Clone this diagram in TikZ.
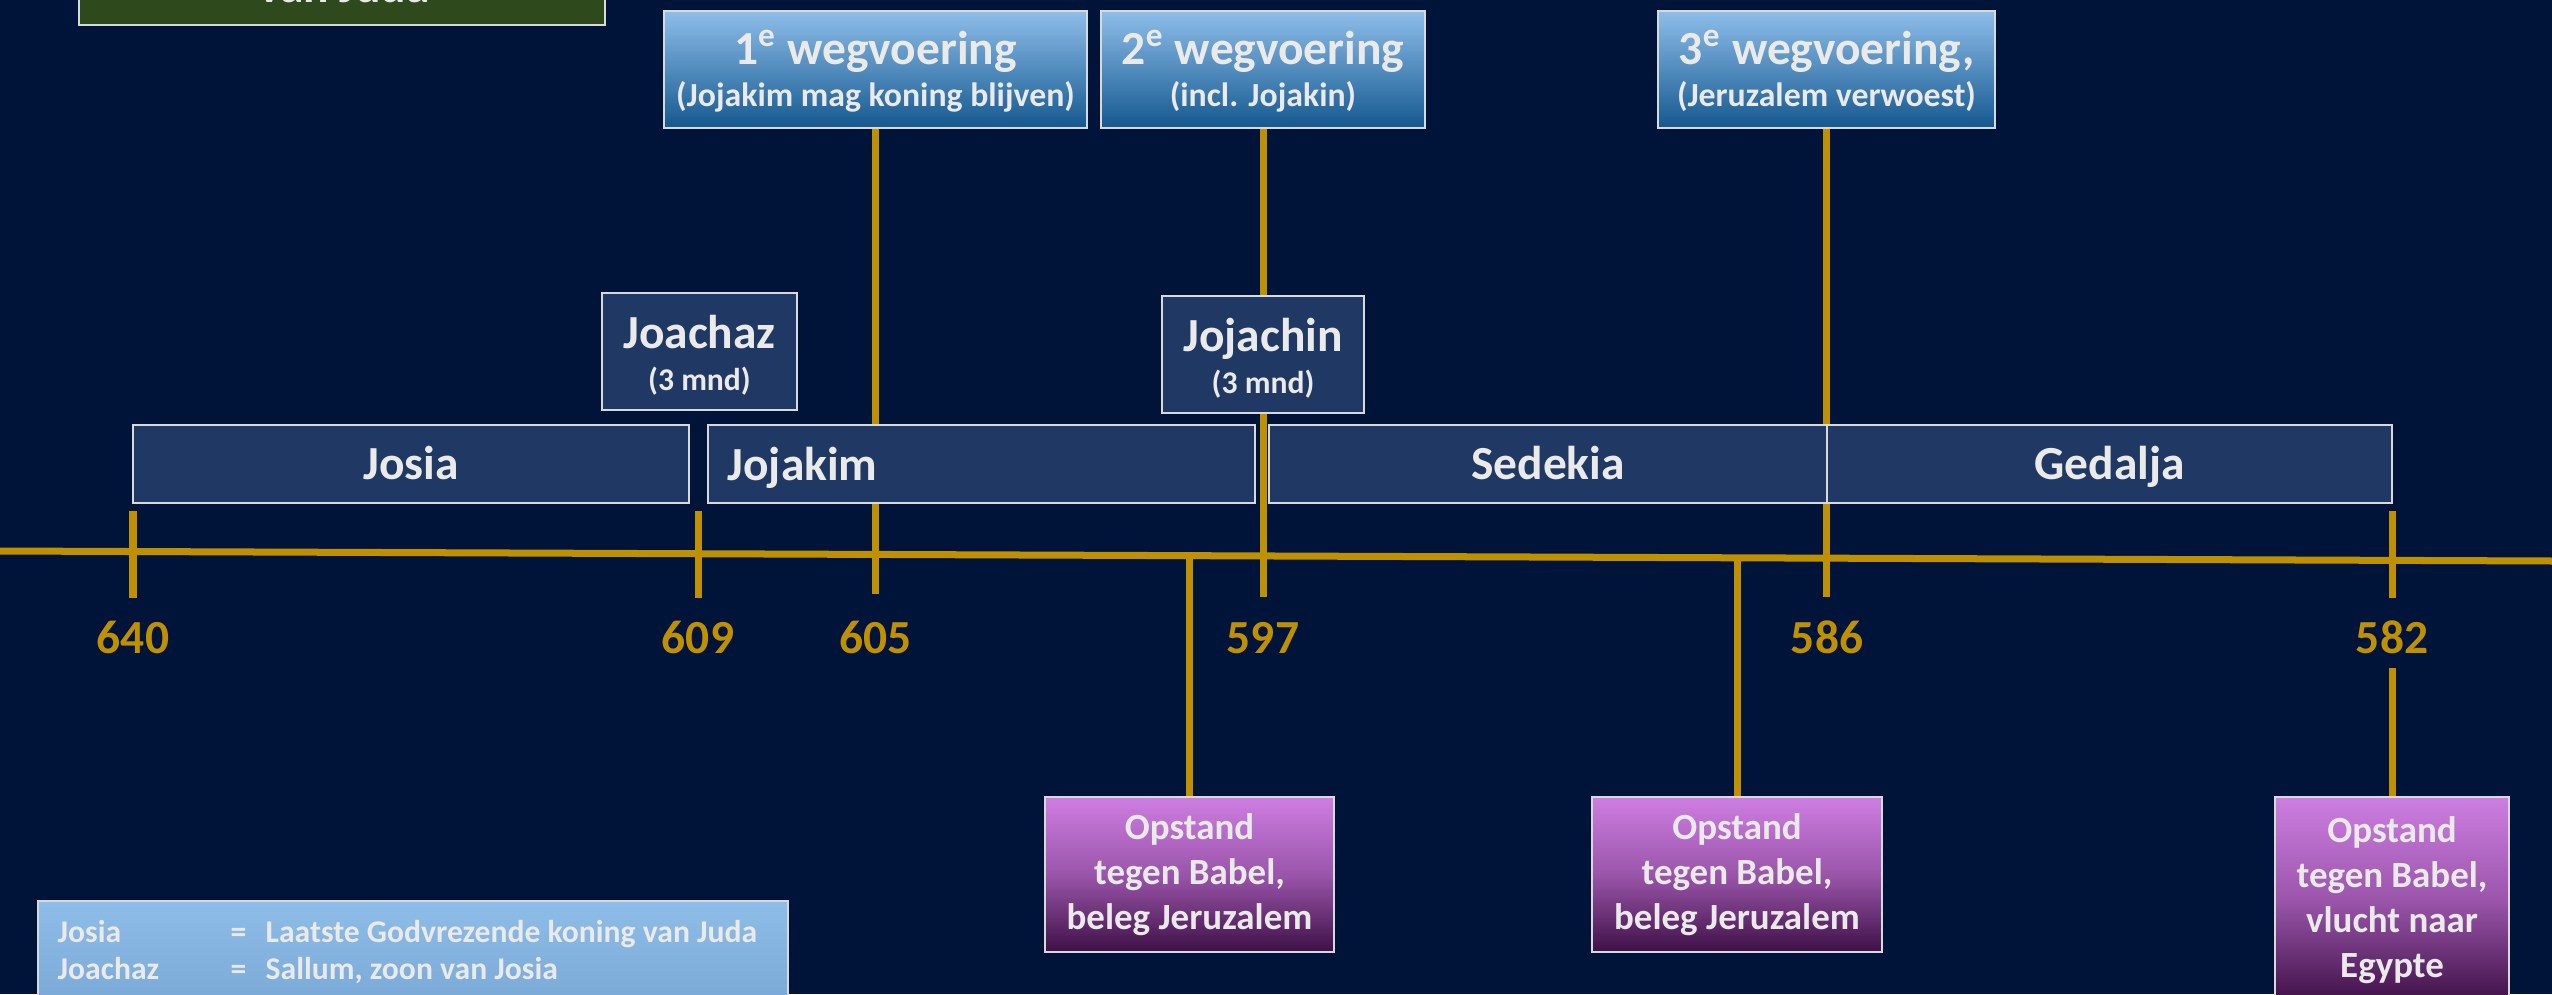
\documentclass[tikz,border=0pt]{standalone}
\usepackage{fontspec}
\setmainfont{Carlito}

\definecolor{nightblue}{HTML}{001338}
\definecolor{goldyellow}{HTML}{BF9000}
\definecolor{palegray}{HTML}{EAEAEA}
\definecolor{framegray}{HTML}{D9D9D9}
\definecolor{kingblue}{HTML}{203864}
\definecolor{wegtop}{HTML}{8EBEEA}
\definecolor{wegbottom}{HTML}{14588F}
\definecolor{opstop}{HTML}{CE7EE2}
\definecolor{opsmid}{HTML}{9A55AA}
\definecolor{opsbottom}{HTML}{3E1046}
\definecolor{legtop}{HTML}{8EBDE8}
\definecolor{legbottom}{HTML}{7AA8D6}
\definecolor{judagreen}{HTML}{2E4A1D}

\begin{document}
\begin{tikzpicture}[x=0.01cm,y=-0.01cm]
\tikzstyle{every node}+=[inner sep=0pt]
\tikzstyle{boxframe}=[draw=framegray, line width=0.6pt]
\tikzstyle{goldline}=[draw=goldyellow, line width=0.07cm]
\tikzstyle{bigtxt}=[text=palegray, font=\fontsize{13.5}{16}\selectfont\bfseries]
\tikzstyle{subtxt}=[text=palegray, font=\fontsize{9.6}{11.5}\selectfont\bfseries]
\tikzstyle{mndtxt}=[text=palegray, font=\fontsize{9}{11}\selectfont\bfseries]
\tikzstyle{legtxt}=[text=palegray, font=\fontsize{9}{11}\selectfont\bfseries, anchor=base west]
\tikzstyle{yeartxt}=[text=goldyellow, font=\fontsize{13.5}{16}\selectfont\bfseries, anchor=base]
\tikzstyle{opstxt}=[text=palegray, font=\fontsize{10.5}{12.8}\selectfont\bfseries, align=center]
\tikzstyle{wegbox}=[boxframe, top color=wegtop, bottom color=wegbottom, minimum height=1.17cm]
\tikzstyle{kingbox}=[boxframe, fill=kingblue, minimum height=1.17cm]
\tikzstyle{kingbar}=[boxframe, fill=kingblue, minimum height=0.78cm, bigtxt, text height=8.7pt, text depth=0pt]
\tikzstyle{opsbox}=[boxframe, top color=opstop, bottom color=opsbottom, middle color=opsmid, opstxt]

\path[use as bounding box, clip] (0,0) rectangle (2552,994);
\fill[nightblue] (0,0) rectangle (2552,994);

\node[boxframe, fill=judagreen, minimum width=5.26cm, minimum height=1.15cm] (judabox) at (342,-32.5) {};
\node[bigtxt, anchor=base] (judatxt) at (344,3) {van Juda};

\node[boxframe, top color=legtop, bottom color=legbottom, minimum width=7.5cm, minimum height=1.09cm] (legend) at (413,955.5) {};
\node[legtxt] (leg1a) at (57,942) {Josia};
\node[legtxt] (leg1b) at (230,942) {=};
\node[legtxt] (leg1c) at (265,942) {Laatste Godvrezende koning van Juda};
\node[legtxt] (leg2a) at (57,979) {Joachaz};
\node[legtxt] (leg2b) at (230,979) {=};
\node[legtxt] (leg2c) at (265,979) {Sallum, zoon van Josia};

\node[wegbox, minimum width=4.23cm] (weg1) at (875.5,69.5) {};
\node[bigtxt, anchor=base] (weg1a) at (875.5,65) {1\textsuperscript{e} wegvoering};
\node[subtxt, anchor=base] (weg1b) at (875.5,107) {(Jojakim mag koning blijven)};
\node[wegbox, minimum width=3.24cm] (weg2) at (1263,69.5) {};
\node[bigtxt, anchor=base] (weg2a) at (1263,65) {2\textsuperscript{e} wegvoering};
\node[subtxt, anchor=base] (weg2b) at (1263,107) {(incl. Jojakin)};
\node[wegbox, minimum width=3.37cm] (weg3) at (1826.5,69.5) {};
\node[bigtxt, anchor=base] (weg3a) at (1826.5,65) {3\textsuperscript{e} wegvoering,};
\node[subtxt, anchor=base] (weg3b) at (1826.5,107) {(Jeruzalem verwoest)};

\coordinate (axisleft) at (0,551);
\coordinate (axisright) at (2552,561);
\draw[goldline] (axisleft) -- (axisright);
\foreach \x in {133,698,2392}
  \draw[goldline] (\x,511) -- (\x,598);
\coordinate (end605) at (875.5,594);
\coordinate (end597) at (1263,597);
\coordinate (end586) at (1826.5,597);
\draw[goldline] (weg1.south) -- (end605);
\draw[goldline] (weg2.south) -- (end597);
\draw[goldline] (weg3.south) -- (end586);

\node[kingbox, minimum width=1.95cm] (joachaz) at (699.5,351.5) {};
\node[bigtxt, anchor=base] (joachaza) at (699.5,348) {Joachaz};
\node[mndtxt, anchor=base] (joachazb) at (699.5,390) {(3 mnd)};
\node[kingbox, minimum width=2.02cm] (jojachin) at (1263,354.5) {};
\node[bigtxt, anchor=base] (jojachina) at (1263,351) {Jojachin};
\node[mndtxt, anchor=base] (jojachinb) at (1263,393) {(3 mnd)};

\node[kingbar, minimum width=5.56cm] (josia) at (411,464) {Josia};
\node[kingbar, minimum width=5.47cm] (jojakim) at (981.5,464) {};
\node[bigtxt, anchor=west, text height=8.7pt, text depth=0pt] (jojakimtxt) at (727,465) {Jojakim};
\node[kingbar, minimum width=5.58cm] (sedekia) at (1548,464) {Sedekia};
\node[kingbar, minimum width=5.65cm] (gedalja) at (2109.5,464) {Gedalja};

\foreach \x/\yr in {133/640, 698/609, 875.5/605, 1263/597, 1827/586, 2392/582}
  \node[yeartxt] (yr\yr) at (\x,653) {\yr};

\node[opsbox, minimum width=2.89cm, minimum height=1.55cm] (ops1) at (1189.5,874.5) {Opstand\\tegen Babel,\\beleg Jeruzalem};
\node[opsbox, minimum width=2.90cm, minimum height=1.55cm] (ops2) at (1737,874.5) {Opstand\\tegen Babel,\\beleg Jeruzalem};
\node[opsbox, minimum width=2.34cm, minimum height=2.06cm] (ops3) at (2392,900) {Opstand\\tegen Babel,\\vlucht naar\\Egypte};

\coordinate (drop1) at (1189.5,556);
\coordinate (drop2) at (1737,558);
\draw[goldline] (ops1.north) -- (drop1);
\draw[goldline] (ops2.north) -- (drop2);
\draw[goldline] ([yshift=-0.14cm]yr582.south) -- (ops3.north);
\end{tikzpicture}
\end{document}
